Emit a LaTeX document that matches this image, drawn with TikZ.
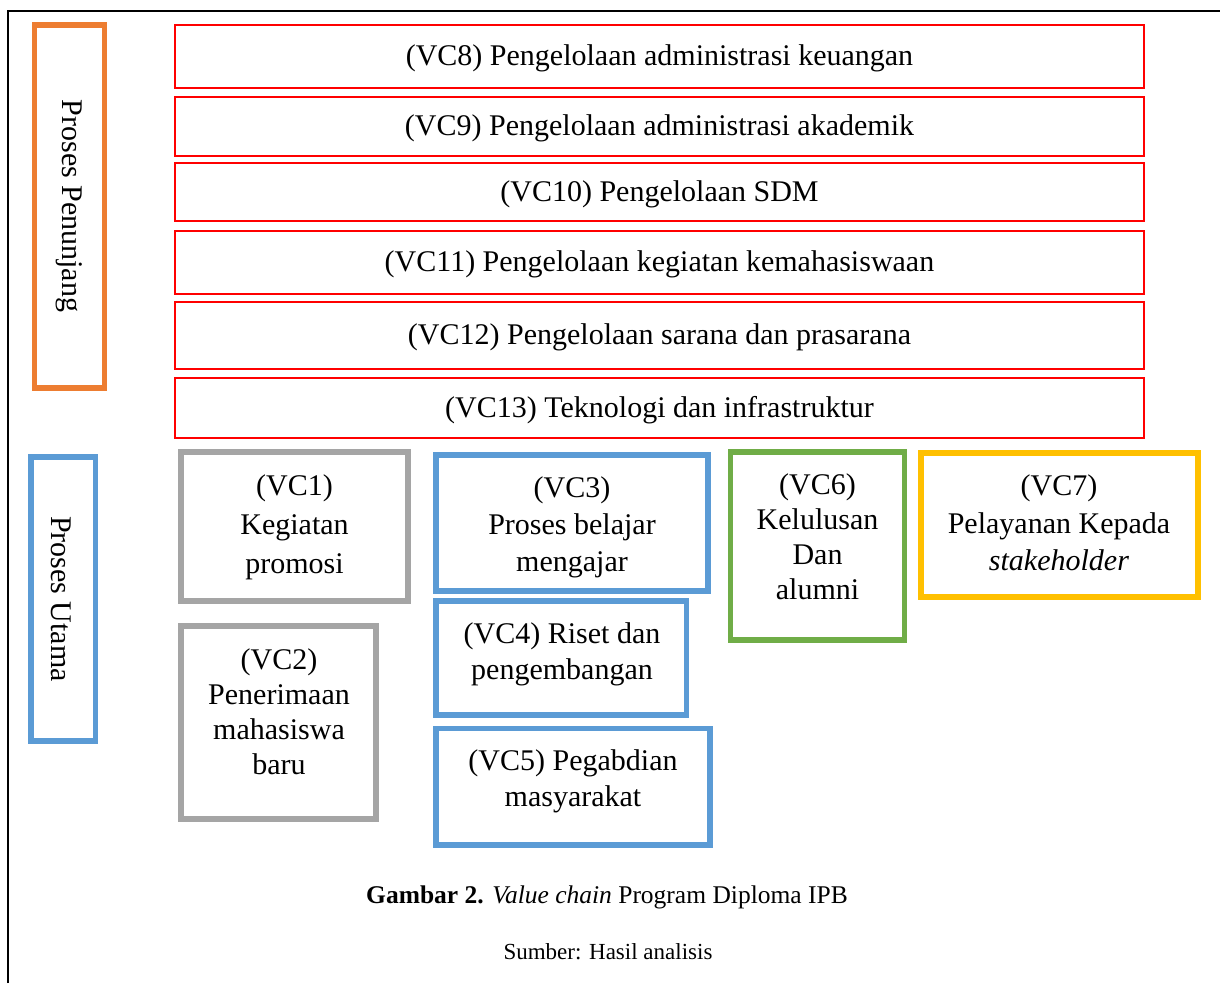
\documentclass[tikz,border=0pt]{standalone}
\usepackage{fontspec}
\setmainfont{Liberation Serif}
\definecolor{vcred}{HTML}{FF0000}
\definecolor{vcorange}{HTML}{ED7D31}
\definecolor{vcblue}{HTML}{5B9BD5}
\definecolor{vcgray}{HTML}{A5A5A5}
\definecolor{vcgreen}{HTML}{70AD47}
\definecolor{vcyellow}{HTML}{FFC000}
\begin{document}
\begin{tikzpicture}[x=1pt,y=-1pt,
  box/.style={draw, rectangle, inner sep=0pt, outer sep=0pt, anchor=north west},
  support/.style={box, draw=vcred, line width=1.3pt, minimum width=969pt,
    text height=21pt, text depth=2.5pt, font=\fontsize{30}{36}\selectfont},
  thick box/.style={box, line width=5.5pt},
  lbl/.style={align=center, inner sep=0pt, font=\fontsize{30}{36}\selectfont},
  side/.style={inner sep=0pt, rotate=-90, font=\fontsize{30}{36}\selectfont}]
\useasboundingbox (0,0) rectangle (1220,983);
% outer frame
\coordinate (fb) at (8,983);
\coordinate (fc) at (8,11);
\coordinate (fr) at (1220,11);
\draw[line width=1.8pt] (fb) -- (fc) -- (fr);

% supporting processes
\node[thick box, draw=vcorange, minimum width=70pt, minimum height=363pt] (pp) at (34.5,25) {};
\node[side] (ppt) at (69,206) {Proses Penunjang};
\node[support, minimum height=63pt] (vc8) at (175,25) {(VC8) Pengelolaan administrasi keuangan};
\node[support, minimum height=59pt] (vc9) at (175,97) {(VC9) Pengelolaan administrasi akademik};
\node[support, minimum height=58pt] (vc10) at (175,163) {(VC10) Pengelolaan SDM};
\node[support, minimum height=63pt] (vc11) at (175,231) {(VC11) Pengelolaan kegiatan kemahasiswaan};
\node[support, minimum height=67pt] (vc12) at (175,302) {(VC12) Pengelolaan sarana dan prasarana};
\node[support, minimum height=60pt] (vc13) at (175,378) {(VC13) Teknologi dan infrastruktur};

% main processes
\node[thick box, draw=vcblue, minimum width=64.5pt, minimum height=284pt] (pu) at (31,457) {};
\node[side] (put) at (61,599) {Proses Utama};

\node[thick box, draw=vcgray, minimum width=227pt, minimum height=149pt] (vc1) at (181,452) {};
\node[lbl, font=\fontsize{30}{39}\selectfont] (t1) at (294.5,527) {(VC1)\\Kegiatan\\promosi};

\node[thick box, draw=vcgray, minimum width=195pt, minimum height=193pt] (vc2) at (181,626) {};
\node[lbl, font=\fontsize{30}{35}\selectfont] (t2) at (279,712) {(VC2)\\Penerimaan\\mahasiswa\\baru};

\node[thick box, draw=vcblue, minimum width=272pt, minimum height=136pt] (vc3) at (436,455) {};
\node[lbl, font=\fontsize{30}{37}\selectfont] (t3) at (572,527) {(VC3)\\Proses belajar\\mengajar};

\node[thick box, draw=vcblue, minimum width=250.5pt, minimum height=114pt] (vc4) at (436,601) {};
\node[lbl] (t4) at (562,654) {(VC4) Riset dan\\pengembangan};

\node[thick box, draw=vcblue, minimum width=274pt, minimum height=116.3pt] (vc5) at (436,728.7) {};
\node[lbl] (t5) at (573,781) {(VC5) Pegabdian\\masyarakat};

\node[thick box, draw=vcgreen, minimum width=174.2pt, minimum height=188pt] (vc6) at (730.5,452) {};
\node[lbl, font=\fontsize{30}{35}\selectfont] (t6) at (817.5,537) {(VC6)\\Kelulusan\\Dan\\alumni};

\node[thick box, draw=vcyellow, minimum width=277pt, minimum height=144pt] (vc7) at (921,453) {};
\node[lbl, font=\fontsize{30}{37.5}\selectfont] (t7) at (1059,523) {(VC7)\\Pelayanan Kepada\\\textit{stakeholder}};

% caption
\node[inner sep=0pt, font=\fontsize{25.5}{30}\selectfont] (cap) at (607,897)
  {\textbf{Gambar 2.} \textit{Value chain} Program Diploma IPB};
\node[inner sep=0pt, font=\fontsize{23}{28}\selectfont] (src) at (608,952) {Sumber: Hasil analisis};
\end{tikzpicture}
\end{document}
